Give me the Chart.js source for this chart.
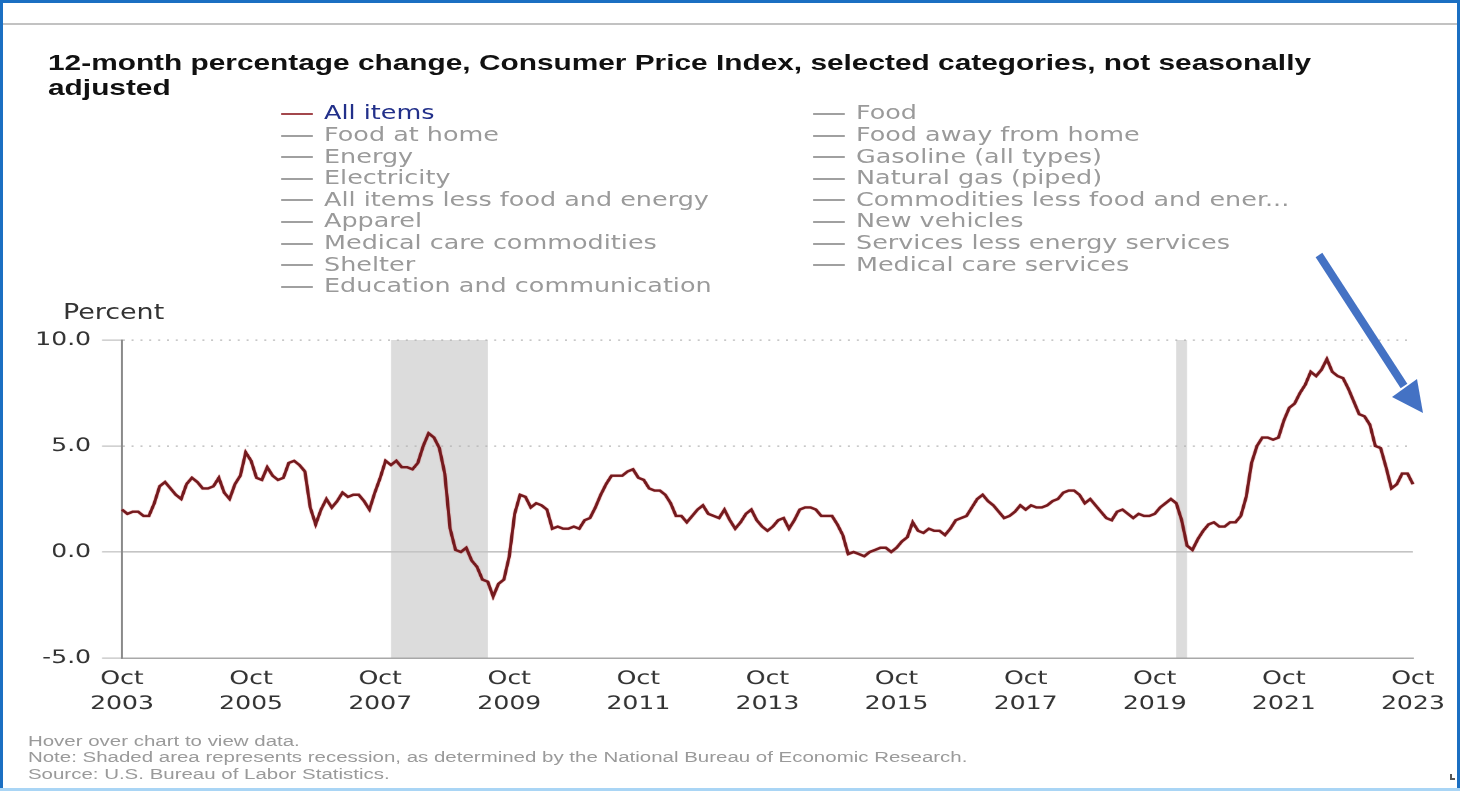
<!DOCTYPE html>
<html>
<head>
<meta charset="utf-8">
<title>12-month percentage change, Consumer Price Index</title>
<script src="https://cdn.jsdelivr.net/npm/chart.js@4/dist/chart.umd.min.js"></script>
<style>
  html, body { margin: 0; padding: 0; background: #fff; }
  body { width: 1460px; height: 791px; position: relative; overflow: hidden; }
  .edge { position: absolute; }
  #edgeL { left: 0; top: 0; width: 3px; height: 791px; background: #1b6fc2; }
  #edgeT { left: 0; top: 0; width: 1460px; height: 3px; background: #1b6fc2; }
  #edgeR { left: 1457px; top: 0; width: 3px; height: 791px; background: #1b6fc2; }
  #edgeB { left: 0; top: 788px; width: 1460px; height: 3px; background: #a9d5f5; }
  #rule  { left: 3px; top: 23px; width: 1454px; height: 2px; background: #c2c2c2; }
  #grip  { left: 1450px; top: 774px; width: 5px; height: 6px;
           border-left: 2px solid #555; border-bottom: 2px solid #555; box-sizing: border-box; }

  /* the whole panel is laid out in narrow units and widened horizontally */
  #stage {
    position: absolute; left: 0; top: 0;
    width: 1106.06px; height: 791px;
    transform: scaleX(1.32); transform-origin: 0 0;
  }
  #title {
    position: absolute; left: 36.4px; top: 50px;
    font: bold 22.6px/25px "Liberation Sans", Arial, sans-serif;
    color: #111; white-space: nowrap;
  }
  .lg {
    position: absolute; height: 21.6px;
    font: 19.3px/21.6px "DejaVu Sans", Verdana, sans-serif;
    color: #9a9a9a; white-space: nowrap;
  }
  .lg .sw {
    position: absolute; left: 0; top: 10.5px; width: 24.2px; height: 2px;
    background: #a0a0a0;
  }
  .lg .tx { position: absolute; left: 32.6px; top: 0; }
  .lg.on { color: #22308a; }
  .lg.on .sw { background: #a3474c; }
  #percent {
    position: absolute; left: 47.7px; top: 300.5px;
    font: 20.4px/22px "DejaVu Sans", Verdana, sans-serif; color: #333;
  }
  #chartBox { position: absolute; left: 0; top: 300px; width: 1106.06px; height: 440px; }
  #notes {
    position: absolute; left: 21.2px; top: 732.7px;
    font: 15.5px/16.5px "Liberation Sans", Arial, sans-serif; color: #9a9a9a;
    white-space: nowrap;
  }
  #arrow { position: absolute; left: 0; top: 0; }
</style>
</head>
<body>
<div class="edge" id="rule"></div>

<div id="stage">
  <div id="title">12-month percentage change, Consumer Price Index, selected categories, not seasonally<br>adjusted</div>
  <div id="legend"></div>
  <div id="percent">Percent</div>
  <div id="chartBox"><canvas id="cpi"></canvas></div>
  <div id="notes">
    Hover over chart to view data.<br>
    Note: Shaded area represents recession, as determined by the National Bureau of Economic Research.<br>
    Source: U.S. Bureau of Labor Statistics.
  </div>
</div>

<svg id="arrow" width="1460" height="791">
  <line x1="1319" y1="255" x2="1404" y2="386" stroke="#4472c4" stroke-width="8"/>
  <polygon points="1392,397 1417,379 1423,413" fill="#4472c4"/>
</svg>

<div class="edge" id="edgeL"></div>
<div class="edge" id="edgeT"></div>
<div class="edge" id="edgeR"></div>
<div class="edge" id="edgeB"></div>
<div class="edge" id="grip"></div>

<script>
// Series names in publication order; only "All items" is switched on.
const seriesNames = [
  'All items', 'Food',
  'Food at home', 'Food away from home',
  'Energy', 'Gasoline (all types)',
  'Electricity', 'Natural gas (piped)',
  'All items less food and energy', 'Commodities less food and ener...',
  'Apparel', 'New vehicles',
  'Medical care commodities', 'Services less energy services',
  'Shelter', 'Medical care services',
  'Education and communication'
];
const activeSeries = 'All items';

// First month of the series.
const firstYear = 2003;
const firstMonth = 9; // October (0-based)

// All items, 12-month percent change, Oct 2003 - Oct 2023
const allItems = [
  2.0, 1.8, 1.9,                                              // 2003 Oct-Dec
  1.9, 1.7, 1.7, 2.3, 3.1, 3.3, 3.0, 2.7, 2.5, 3.2, 3.5, 3.3, // 2004
  3.0, 3.0, 3.1, 3.5, 2.8, 2.5, 3.2, 3.6, 4.7, 4.3, 3.5, 3.4, // 2005
  4.0, 3.6, 3.4, 3.5, 4.2, 4.3, 4.1, 3.8, 2.1, 1.3, 2.0, 2.5, // 2006
  2.1, 2.4, 2.8, 2.6, 2.7, 2.7, 2.4, 2.0, 2.8, 3.5, 4.3, 4.1, // 2007
  4.3, 4.0, 4.0, 3.9, 4.2, 5.0, 5.6, 5.4, 4.9, 3.7, 1.1, 0.1, // 2008
  0.0, 0.2, -0.4, -0.7, -1.3, -1.4, -2.1, -1.5, -1.3, -0.2, 1.8, 2.7, // 2009
  2.6, 2.1, 2.3, 2.2, 2.0, 1.1, 1.2, 1.1, 1.1, 1.2, 1.1, 1.5, // 2010
  1.6, 2.1, 2.7, 3.2, 3.6, 3.6, 3.6, 3.8, 3.9, 3.5, 3.4, 3.0, // 2011
  2.9, 2.9, 2.7, 2.3, 1.7, 1.7, 1.4, 1.7, 2.0, 2.2, 1.8, 1.7, // 2012
  1.6, 2.0, 1.5, 1.1, 1.4, 1.8, 2.0, 1.5, 1.2, 1.0, 1.2, 1.5, // 2013
  1.6, 1.1, 1.5, 2.0, 2.1, 2.1, 2.0, 1.7, 1.7, 1.7, 1.3, 0.8, // 2014
  -0.1, 0.0, -0.1, -0.2, 0.0, 0.1, 0.2, 0.2, 0.0, 0.2, 0.5, 0.7, // 2015
  1.4, 1.0, 0.9, 1.1, 1.0, 1.0, 0.8, 1.1, 1.5, 1.6, 1.7, 2.1, // 2016
  2.5, 2.7, 2.4, 2.2, 1.9, 1.6, 1.7, 1.9, 2.2, 2.0, 2.2, 2.1, // 2017
  2.1, 2.2, 2.4, 2.5, 2.8, 2.9, 2.9, 2.7, 2.3, 2.5, 2.2, 1.9, // 2018
  1.6, 1.5, 1.9, 2.0, 1.8, 1.6, 1.8, 1.7, 1.7, 1.8, 2.1, 2.3, // 2019
  2.5, 2.3, 1.5, 0.3, 0.1, 0.6, 1.0, 1.3, 1.4, 1.2, 1.2, 1.4, // 2020
  1.4, 1.7, 2.6, 4.2, 5.0, 5.4, 5.4, 5.3, 5.4, 6.2, 6.8, 7.0, // 2021
  7.5, 7.9, 8.5, 8.3, 8.6, 9.1, 8.5, 8.3, 8.2, 7.7, 7.1, 6.5, // 2022
  6.4, 6.0, 5.0, 4.9, 4.0, 3.0, 3.2, 3.7, 3.7, 3.2            // 2023 Jan-Oct
];

// NBER recessions (first and last month shaded)
const recessions = [
  ['Dec 2007', 'Jun 2009'],
  ['Feb 2020', 'Apr 2020']
];

// Value axis
const yMin = -5, yMax = 10, yStep = 5;
// A labelled tick every two years
const xTickEvery = 24;

const MONTHS = ['Jan','Feb','Mar','Apr','May','Jun','Jul','Aug','Sep','Oct','Nov','Dec'];
const monthLabels = allItems.map((_, i) => {
  const k = firstMonth + i;
  return MONTHS[k % 12] + ' ' + (firstYear + Math.floor(k / 12));
});

// ---- legend (two columns, filled row by row) ----
const legendEl = document.getElementById('legend');
seriesNames.forEach((name, i) => {
  const item = document.createElement('div');
  item.className = 'lg' + (name === activeSeries ? ' on' : '');
  item.style.left = (i % 2 === 0 ? 212.9 : 615.9) + 'px';
  item.style.top = (102.4 + Math.floor(i / 2) * 21.6) + 'px';
  const sw = document.createElement('span'); sw.className = 'sw';
  const tx = document.createElement('span'); tx.className = 'tx'; tx.textContent = name;
  item.appendChild(sw); item.appendChild(tx);
  legendEl.appendChild(item);
});

// ---- recession shading, under the grid ----
const recessionBands = {
  id: 'recessionBands',
  beforeDraw(chart) {
    const {ctx, chartArea, scales: {x}} = chart;
    ctx.save();
    ctx.fillStyle = '#dcdcdc';
    recessions.forEach(([from, to]) => {
      const x0 = x.getPixelForValue(monthLabels.indexOf(from));
      const x1 = x.getPixelForValue(monthLabels.indexOf(to));
      ctx.fillRect(x0, chartArea.top, x1 - x0, chartArea.bottom - chartArea.top);
    });
    ctx.restore();
  }
};

// soft red fringe around the line
const lineGlow = {
  id: 'lineGlow',
  beforeDatasetsDraw(chart) {
    chart.ctx.save();
    chart.ctx.shadowColor = 'rgba(215, 35, 35, 0.6)';
    chart.ctx.shadowBlur = 2;
  },
  afterDatasetsDraw(chart) { chart.ctx.restore(); }
};

Chart.defaults.font.family = "'DejaVu Sans', Verdana, sans-serif";

new Chart(document.getElementById('cpi'), {
  type: 'line',
  data: {
    labels: monthLabels,
    datasets: [{
      label: activeSeries,
      data: allItems,
      borderColor: '#741a1e',
      borderWidth: 2.4,
      pointRadius: 0,
      tension: 0,
      fill: false
    }]
  },
  options: {
    responsive: true,
    maintainAspectRatio: false,
    devicePixelRatio: 2,
    animation: false,
    events: [],
    layout: { padding: { left: 0, right: 35.6, top: 40, bottom: 0 } },
    plugins: { legend: { display: false }, tooltip: { enabled: false } },
    scales: {
      x: {
        type: 'category',
        offset: false,
        grid: { display: false, drawTicks: false },
        border: { display: true, color: '#a8a8a8', width: 1.5 },
        ticks: {
          autoSkip: false, maxRotation: 0, minRotation: 0,
          padding: 8.5, color: '#333',
          font: { size: 19, lineHeight: 25 / 19 },
          callback(value, index) {
            return index % xTickEvery === 0 ? this.getLabelForValue(value).split(' ') : null;
          }
        },
        afterFit(scale) { scale.height = 82; }
      },
      y: {
        min: yMin, max: yMax,
        grid: {
          color: (c) => c.tick && c.tick.value === 0 ? '#c4c4c4' : '#b4b4b4',
          lineWidth: (c) => c.tick && c.tick.value === 0 ? 1.6 : 1.3,
          tickLength: 15.15, tickColor: '#cccccc', tickWidth: 1.5
        },
        border: {
          display: true, color: '#8a8a8a', width: 1.5,
          dash: (c) => c.tick && c.tick.value > 0 ? [1.5, 5.2] : []
        },
        ticks: {
          stepSize: yStep, padding: 8.3, color: '#333',
          font: { size: 19 },
          callback: (v) => v.toFixed(1)
        },
        afterFit(scale) { scale.width = 92.42; }
      }
    }
  },
  plugins: [recessionBands, lineGlow]
});
</script>
</body>
</html>
